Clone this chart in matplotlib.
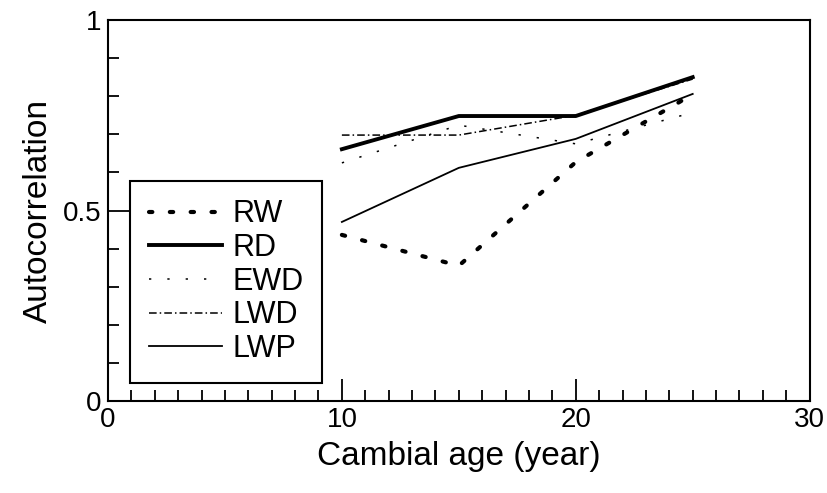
import matplotlib.pyplot as plt
from matplotlib.ticker import MultipleLocator

plt.rcParams['font.family'] = ['Liberation Sans', 'DejaVu Sans']

age = [10, 15, 20, 25]
rw = [0.436, 0.355, 0.627, 0.805]
rd = [0.661, 0.748, 0.748, 0.850]
ewd = [0.625, 0.724, 0.675, 0.757]
lwd = [0.698, 0.698, 0.750, 0.845]
lwp = [0.470, 0.612, 0.688, 0.806]

fig = plt.figure(figsize=(8.27, 4.93), dpi=100)
ax = fig.add_axes([0.1306, 0.1866, 0.8484, 0.7728])

ax.plot(age, rw, color='k', lw=3.0, linestyle=(0, (0.8, 4.2)), dash_capstyle='round', label='RW')
ax.plot(age, rd, color='k', lw=2.8, label='RD')
ax.plot(age, ewd, color='k', lw=1.1, linestyle=(0, (1.5, 10.5)), label='EWD')
ax.plot(age, lwd, color='k', lw=1.1, linestyle=(0, (5, 2, 1, 2)), label='LWD')
ax.plot(age, lwp, color='k', lw=1.3, label='LWP')

ax.set_xlim(0, 30)
ax.set_ylim(0, 1)
ax.xaxis.set_major_locator(MultipleLocator(10))
ax.xaxis.set_minor_locator(MultipleLocator(1))
ax.yaxis.set_major_locator(MultipleLocator(0.5))
ax.yaxis.set_minor_locator(MultipleLocator(0.1))
ax.set_yticks([0, 0.5, 1])
ax.set_yticklabels(['0', '0.5', '1'])
ax.tick_params(which='both', direction='in', top=False, right=False, labelsize=20, width=1.3)
ax.tick_params(which='major', length=16, pad=4)
ax.tick_params(axis='y', which='major', pad=5)
ax.tick_params(which='minor', length=8)
for s in ax.spines.values():
    s.set_linewidth(1.5)

ax.set_xlabel('Cambial age (year)', fontsize=24, labelpad=6)
ax.set_ylabel('Autocorrelation', fontsize=24, labelpad=6)

leg = ax.legend(loc='lower left', bbox_to_anchor=(0.031, 0.047), borderaxespad=0,
                fontsize=22, handlelength=2.4, handletextpad=0.33, labelspacing=0.12,
                fancybox=False, framealpha=1, edgecolor='k', borderpad=0.62)
leg.get_frame().set_linewidth(1.5)

fig.savefig('out.png', dpi=100)
